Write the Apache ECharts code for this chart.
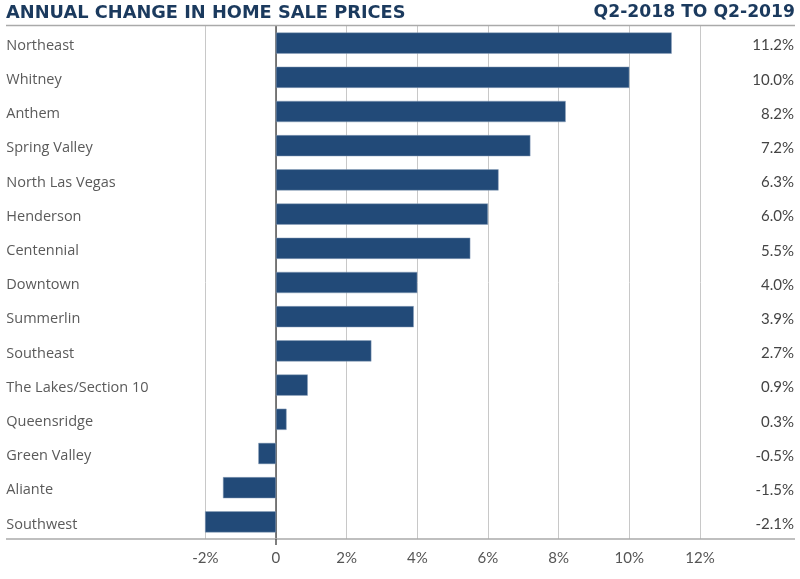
<!DOCTYPE html>
<html>
<head>
<meta charset="utf-8">
<script src="https://cdn.jsdelivr.net/npm/echarts@6/dist/echarts.min.js"></script>
<style>
html,body{margin:0;padding:0;background:#fff;}
#c{width:800px;height:579px;}
</style>
</head>
<body>
<div id="c"></div>
<script>
var categories = ["Northeast","Whitney","Anthem","Spring Valley","North Las Vegas","Henderson","Centennial","Downtown","Summerlin","Southeast","The Lakes/Section 10","Queensridge","Green Valley","Aliante","Southwest"];
var values = [11.2,10.0,8.2,7.2,6.3,6.0,5.5,4.0,3.9,2.7,0.9,0.3,-0.5,-1.5,-2.1];
var xTicks = {min:-2, max:12, interval:2};
var titleLeft = "ANNUAL CHANGE IN HOME SALE PRICES";
var titleRight = "Q2-2018 TO Q2-2019";

var valueLabels = values.map(function(v){ return v.toFixed(1) + "%"; });

var chart = echarts.init(document.getElementById('c'), null, {renderer:'canvas'});
var font = "Lato, 'Open Sans', sans-serif";
var labFont = "'Open Sans', Lato, sans-serif";
var titleFont = "'DejaVu Sans', sans-serif";
chart.setOption({
  animation:false,
  title:[
    {text:titleLeft, left:6, top:4, padding:0, textStyle:{fontFamily:titleFont, fontWeight:'bold', fontSize:17.8, color:'#1b3a5e'}},
    {text:titleRight, right:5, top:4, padding:0, textStyle:{fontFamily:titleFont, fontWeight:'bold', fontSize:17.2, color:'#1b3a5e'}}
  ],
  grid:{left:205.3, right:100, top:26, bottom:40, containLabel:false},
  xAxis:{
    type:'value', min:xTicks.min, max:xTicks.max, interval:xTicks.interval,
    axisLine:{show:false}, axisTick:{show:false},
    splitLine:{show:true, lineStyle:{color:'#c8c8c8', width:1}},
    axisLabel:{fontFamily:font, fontSize:15, color:'#555', margin:12,
      formatter:function(v){ return v===0 ? '0' : v + '%'; }}
  },
  yAxis:[
    {type:'category', data:categories, inverse:true,
     axisLine:{show:true, onZero:true, lineStyle:{color:'#555', width:1.5}},
     axisTick:{show:false},
     axisLabel:{align:'left', margin:199,
       formatter:function(v){ return '{a|' + v + '}'; },
       rich:{a:{fontFamily:labFont, fontSize:14.5, color:'#5a5a5a', padding:[5,0,0,0]}}}},
    {type:'category', data:valueLabels, inverse:true, position:'right',
     axisLine:{show:false}, axisTick:{show:false},
     axisLabel:{align:'right', margin:94,
       formatter:function(v){ return '{a|' + v + '}'; },
       rich:{a:{fontFamily:font, fontSize:15, color:'#444', padding:[5,0,0,0]}}}}
  ],
  graphic:[
    {type:'line', shape:{x1:6,y1:25.5,x2:795,y2:25.5}, style:{stroke:'#aaaaaa', lineWidth:1.5}, z:10},
    {type:'line', shape:{x1:6,y1:539,x2:795,y2:539}, style:{stroke:'#aaaaaa', lineWidth:1.5}, z:10},
    {type:'line', shape:{x1:276,y1:539,x2:276,y2:545}, style:{stroke:'#555', lineWidth:1.5}, z:10}
  ],
  series:[{
    type:'bar', data:values, barCategoryGap:'38%',
    itemStyle:{color:'#224a78', borderColor:'#8fa3bd', borderWidth:0.5}
  }]
});
</script>
</body>
</html>
